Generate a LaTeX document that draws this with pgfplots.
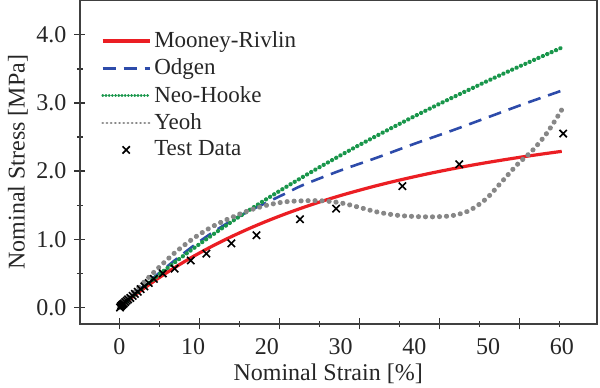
\documentclass[border=0pt]{standalone}
\usepackage{fontspec}
\setmainfont{Liberation Serif}
\usepackage{pgfplots}
\pgfplotsset{compat=1.18}
\pgfplotsset{mark legend/.style={legend image code/.code={\draw[##1] plot coordinates {(11.75pt,0pt)};}}}
\definecolor{mrred}{RGB}{235,30,35}
\definecolor{odblue}{RGB}{45,75,170}
\definecolor{nhgreen}{RGB}{25,150,75}
\definecolor{yhgray}{RGB}{135,135,135}
\begin{document}
\begin{tikzpicture}
\begin{axis}[
  scale only axis, width=258.5pt, height=161.65pt,
  xmin=-5.33, xmax=64.78, ymin=-0.24, ymax=4.5,
  axis line style={black!75, line width=0.8pt},
  tick align=center, tick pos=left,
  major tick length=5.5pt, minor tick length=3pt,
  every tick/.style={black!80, line width=0.7pt},
  xtick={0,10.85,21.7,32.55,43.4,54.25},
  xticklabels={{},{},{},{},{},{}},
  minor xtick={5.425,16.275,27.125,37.975,48.825,59.675},
  extra x ticks={0,10,20,30,40,50,60},
  extra x tick labels={0,10,20,30,40,50,60},
  extra x tick style={major tick length=0pt},
  ytick={0,1,2,3,4},
  yticklabels={0.0,1.0,2.0,3.0,4.0},
  minor ytick={0.5,1.5,2.5,3.5},
  /pgf/number format/assume math mode=true,
  tick label style={font=\fontsize{12}{14}\selectfont, text=black!85},
  xticklabel style={yshift=-4pt},
  yticklabel style={xshift=-0.5pt},
  label style={font=\fontsize{12}{14}\selectfont, text=black!85},
  xlabel={Nominal Strain [\%]},
  ylabel={Nominal Stress [MPa]},
  xlabel style={at={(axis description cs:0.48,-0.155)}, anchor=center},
  ylabel style={at={(axis description cs:-0.12,0.5)}, anchor=center, rotate=0},
  legend style={draw=none, fill=none, at={(rel axis cs:0.04,0.915)}, anchor=north west,
    font=\fontsize{11.5}{13}\selectfont, row sep=1.2pt, inner sep=0pt,
    nodes={inner sep=1.5pt, text=black!85}},
  legend cell align=left,
  legend image code/.code={\draw[#1] (0pt,0pt) -- (23.5pt,0pt);},
]
\coordinate (BL) at ([xshift=-40pt,yshift=-31.85pt]rel axis cs:0,0);
\coordinate (TR) at ([xshift=1.5pt,yshift=0.3pt]rel axis cs:1,1);

% Mooney-Rivlin
\addplot[mrred, line width=1.6pt, smooth] coordinates {
(0,0) (2.5,0.214) (5,0.408) (7.5,0.585) (10,0.747) (12.5,0.894) (15,1.029)
(17.5,1.153) (20,1.267) (22.5,1.372) (25,1.469) (27.5,1.559) (30,1.642)
(32.5,1.718) (35,1.790) (37.5,1.856) (40,1.918) (42.5,1.976) (45,2.030)
(47.5,2.081) (50,2.128) (52.5,2.172) (55,2.214) (57.5,2.253) (60,2.290)};
\addlegendentry{Mooney-Rivlin}

% Odgen
\addplot[odblue, line width=1.3pt, dash pattern=on 6.5pt off 4pt, smooth] coordinates {
(0,0) (2.5,0.24) (5,0.47) (7.5,0.69) (10,0.90) (12.5,1.09) (15,1.26)
(17.5,1.41) (20,1.54) (22.5,1.67) (25,1.80) (30,2.01) (35,2.20) (40,2.40)
(45,2.59) (50,2.79) (55,2.99) (60,3.18)};
\addlegendentry{Odgen}

% Neo-Hooke
\addplot[nhgreen, line width=2.1pt, dash pattern=on 0.1pt off 2.3pt, line cap=round, smooth,
  legend image post style={line width=1.4pt, dash pattern=on 0.1pt off 1.5pt}] coordinates {
(0,0) (2.5,0.231) (5,0.450) (7.5,0.661) (10,0.862) (12.5,1.055) (15,1.241)
(17.5,1.420) (20,1.593) (22.5,1.760) (25,1.922) (27.5,2.079) (30,2.231)
(32.5,2.380) (35,2.524) (37.5,2.665) (40,2.803) (42.5,2.938) (45,3.069)
(47.5,3.198) (50,3.325) (52.5,3.449) (55,3.571) (57.5,3.691) (60,3.810)};
\addlegendentry{Neo-Hooke}

% Yeoh
\addplot[yhgray, line width=2.5pt, dash pattern=on 0.1pt off 3.4pt, line cap=round, smooth,
  legend image post style={line width=1.4pt, dash pattern=on 0.1pt off 2pt}] coordinates {
(0,0) (2.5,0.28) (5,0.55) (7.5,0.80) (10,1.01) (12.5,1.18) (15,1.31)
(17.5,1.42) (20,1.50) (22.5,1.55) (25,1.565) (27.5,1.565) (30,1.535)
(32.5,1.47) (35,1.40) (37.5,1.355) (40,1.335) (42.5,1.33) (45,1.345)
(47,1.40) (48.5,1.49) (50,1.62) (52,1.86) (54,2.10) (56,2.30) (58,2.56) (60,2.90)};
\addlegendentry{Yeoh}

% Test data
\addplot[only marks, mark=x, mark size=2.6pt, black, line width=0.8pt, mark legend] coordinates {
(0.1,0.00) (0.2,0.02) (0.3,0.03) (0.4,0.04) (0.5,0.05) (0.6,0.06) (0.8,0.08)
(1.0,0.10) (1.2,0.12) (1.5,0.14) (1.8,0.17) (2.1,0.20) (2.5,0.23) (2.9,0.27)
(3.4,0.31) (4.0,0.36) (4.7,0.42) (5.9,0.50) (7.5,0.57) (9.7,0.69) (11.8,0.79)
(15.2,0.94) (18.6,1.06) (24.5,1.295) (29.4,1.45) (38.4,1.78) (46.1,2.10) (60.2,2.55)};
\addlegendentry{Test Data}
\end{axis}
\pgfresetboundingbox
\useasboundingbox (BL) rectangle (TR);
\end{tikzpicture}
\end{document}
